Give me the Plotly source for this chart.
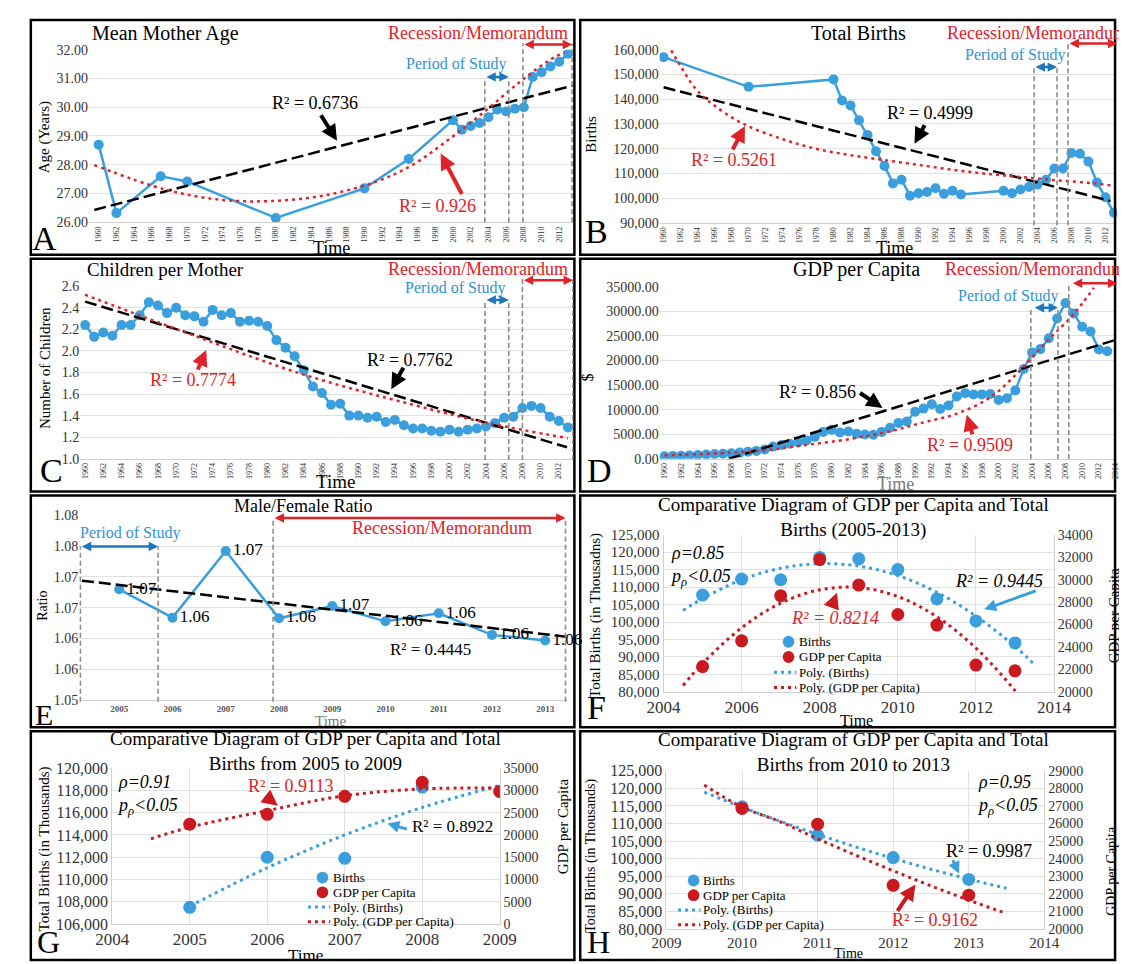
import plotly.graph_objects as go

W, H = 1127, 964
FONT = "Liberation Serif"
BLUE = "#3A9FDC"
BLUE_TXT = "#2F93D5"
BLUE_ARR = "#1F77BE"
RED = "#E02229"
RED_MK = "#C81A1F"
DASH_GRAY = "#8C8C8C"
GRID = "#E1E1E1"
AXLINE = "#D0D0D0"
TICK_C = "#333333"
GRAY_TXT = "#7A7A7A"

# ---------------- Panel A : Mean Mother Age ----------------
A_YEARS = [1960, 1962, 1967, 1970, 1980, 1990, 1995, 2000, 2001, 2002, 2003,
           2004, 2005, 2006, 2007, 2008, 2009, 2010, 2011, 2012, 2013]
A_AGE = [28.70, 26.32, 27.60, 27.42, 26.15, 27.18, 28.20, 29.55, 29.22, 29.35, 29.45,
         29.65, 29.92, 29.85, 29.95, 30.00, 31.05, 31.22, 31.42, 31.58, 31.86]
A_LIN_X = [1959.5, 2013.5]
A_LIN_Y = [26.43, 30.75]
A_POLY_X = [1959.5, 1967.5, 1973.9, 1979.5, 1985.4, 1991.4, 1995.4, 1999.4, 2003.4, 2007.4, 2010.6, 2012.6]
A_POLY_Y = [27.99, 27.14, 26.78, 26.74, 26.93, 27.42, 27.99, 28.85, 29.81, 30.84, 31.58, 31.92]

# ---------------- Panel B : Total Births ----------------
B_YEARS = [1960, 1970, 1980, 1981, 1982, 1983, 1984, 1985, 1986, 1987, 1988, 1989, 1990,
           1991, 1992, 1993, 1994, 1995, 2000, 2001, 2002, 2003, 2004, 2005, 2006, 2007,
           2008, 2009, 2010, 2011, 2012, 2013]
B_BIRTHS = [157000, 145000, 148000, 139500, 137500, 131500, 125500, 119000, 113000, 106000,
            107500, 101000, 102000, 102500, 104000, 101800, 103000, 101500, 103000, 102000,
            103500, 104500, 105500, 107500, 112000, 112000, 118300, 118000, 114800, 106400,
            100400, 94100]
B_LIN_X = [1960, 2012.6]
B_LIN_Y = [144800, 98900]
B_LOG_X = [1960.9, 1961.7, 1963.7, 1965.8, 1969.4, 1973.9, 1977.9, 1982.0, 1986.0, 1990.1,
           1994.2, 1998.2, 2002.3, 2006.3, 2010.4, 2012.8]
B_LOG_Y = [159700, 155100, 144500, 137900, 130000, 124000, 120000, 117400, 115400, 113400,
           111400, 109800, 108500, 107200, 106100, 105100]

# ---------------- Panel C : Children per Mother ----------------
C_YEARS = [1960, 1961, 1962, 1963, 1964, 1965, 1966, 1967, 1968, 1969,
           1970, 1971, 1972, 1973, 1974, 1975, 1976, 1977, 1978, 1979,
           1980, 1981, 1982, 1983, 1984, 1985, 1986, 1987, 1988, 1989,
           1990, 1991, 1992, 1993, 1994, 1995, 1996, 1997, 1998, 1999,
           2000, 2001, 2002, 2003, 2004, 2005, 2006, 2007, 2008, 2009,
           2010, 2011, 2012, 2013]
C_CHILDREN = [2.24, 2.13, 2.17, 2.14, 2.24, 2.24, 2.33, 2.45, 2.42, 2.35,
              2.40, 2.33, 2.32, 2.27, 2.38, 2.33, 2.35, 2.27, 2.28, 2.27,
              2.23, 2.10, 2.03, 1.95, 1.82, 1.67, 1.61, 1.50, 1.51, 1.40,
              1.40, 1.38, 1.39, 1.34, 1.36, 1.31, 1.28, 1.28, 1.26, 1.25,
              1.27, 1.25, 1.27, 1.28, 1.30, 1.33, 1.38, 1.39, 1.47, 1.49,
              1.47, 1.39, 1.35, 1.29]
C_LIN_X = [1960, 2012.9]
C_LIN_Y = [2.457, 1.106]
C_POLY_X = [1960, 1972, 1984, 1996, 2004, 2013]
C_POLY_Y = [2.52, 2.14, 1.78, 1.50, 1.335, 1.19]

# ---------------- Panel D : GDP per Capita ----------------
D_YEARS = C_YEARS
D_GDP = [520, 580, 610, 680, 770, 870, 960, 1030, 1100, 1250,
         1450, 1600, 1880, 2470, 2790, 3050, 3310, 3740, 4460, 5440,
         5880, 5340, 5550, 5080, 4940, 4870, 5470, 6300, 7300, 7590,
         9570, 10210, 11090, 10140, 10840, 12670, 13360, 13090, 13100, 13200,
         11950, 12330, 13920, 18270, 21620, 22320, 24520, 28550, 31700, 29560,
         26860, 25920, 22240, 21870]
D_LIN_X = [1967.7, 2014.2]
D_LIN_Y = [0, 24300]
D_POLY_X = [1960, 1968, 1972.5, 1976, 1982.5, 1987, 1991, 1995, 1999, 2002, 2004, 2006.4, 2008.5, 2010.1, 2011.4]
D_POLY_Y = [700, 1250, 1800, 2600, 4100, 5600, 7400, 9200, 12500, 17000, 20600, 25000, 28500, 31800, 34800]

# ---------------- Panel E : Male/Female Ratio ----------------
E_YEARS = [2005, 2006, 2007, 2008, 2009, 2010, 2011, 2012, 2013]
E_RATIO = [1.0680, 1.0634, 1.0742, 1.0633, 1.0653, 1.0628, 1.0641, 1.0606, 1.0597]
E_LIN_X = [2004.3, 2013.4]
E_LIN_Y = [1.0694, 1.0603]
E_TICKVALS = [1.050, 1.055, 1.060, 1.065, 1.070, 1.075, 1.080]
E_TICKTEXT = ["1.05", "1.06", "1.06", "1.07", "1.07", "1.08", "1.08"]

# ---------------- Panel F : 2005-2013 ----------------
F_YEARS = [2005, 2006, 2007, 2008, 2009, 2010, 2011, 2012, 2013]
F_BIRTHS = [107700, 112300, 112100, 118500, 118100, 115000, 106600, 100300, 94000]
F_GDP = [22250, 24550, 28570, 31780, 29510, 26890, 25950, 22390, 21870]
F_PB_X = [2004.5, 2005, 2006, 2007, 2008, 2009, 2010, 2011, 2012, 2013, 2013.5]
F_PB_Y = [103300, 106700, 112100, 115400, 116700, 116000, 113300, 108500, 101700, 93000, 87800]
F_PG_X = [2004.5, 2005, 2006, 2007, 2008, 2009, 2010, 2011, 2012, 2013, 2013.5]
F_PG_Y = [20570, 22530, 25710, 27900, 29090, 29290, 28490, 26690, 23900, 20110, 17850]

# ---------------- Panel G : 2005-2009 ----------------
G_YEARS = [2005, 2006, 2007, 2008, 2009]
G_BIRTHS = [107500, 112000, 111900, 118300, 117900]
G_GDP = [22420, 24630, 28690, 31840, 29790]
G_PB_X = [2005, 2006, 2007, 2008, 2009]
G_PB_Y = [107600, 111050, 114000, 116470, 118460]
G_PG_X = [2004.5, 2005, 2006, 2007, 2008, 2009]
G_PG_Y = [19120, 21730, 25470, 28820, 30340, 30520]

# ---------------- Panel H : 2010-2013 ----------------
H_YEARS = [2010, 2011, 2012, 2013]
H_BIRTHS = [114750, 106650, 100310, 94080]
H_GDP = [26855, 25960, 22480, 21920]
H_PB_X = [2009.5, 2010, 2010.5, 2011, 2011.5, 2012, 2012.5, 2013, 2013.5]
H_PB_Y = [118900, 114660, 110660, 106890, 103360, 100060, 96990, 94160, 91560]
H_PG_X = [2009.5, 2010, 2010.5, 2011, 2011.5, 2012, 2012.5, 2013, 2013.5]
H_PG_Y = [28190, 26930, 26110, 25130, 24200, 23310, 22450, 21640, 20870]

LEGEND_LABELS = ["Births", "GDP per Capita", "Poly. (Births)", "Poly. (GDP per Capita)"]

# period / recession markers (years) per panel
A_PERIOD = [2003.6, 2006.3]; A_REC = [2007.9, 2013.45]
B_PERIOD = [2003.6, 2006.3]; B_REC = [2007.6, 2013.4]
C_PERIOD = [2003.9, 2006.5]; C_REC = [2008.0, 2013.55]
D_PERIOD = [2003.85, 2007.1]; D_REC = [2008.4, 2014.2]
E_PERIOD = [2004.27, 2005.73]; E_REC = [2007.89, 2013.38]


def PX(x):
    return x / W


def PY(y):
    return 1 - y / H


def xdom(a, b):
    return [PX(a), PX(b)]


def ydom(top, bottom):
    return [PY(bottom), PY(top)]


fig = go.Figure()


def add(x, y, xa, ya, mode, color, width=2.5, dash=None, shape="linear", msize=10,
        name=None, clip=True):
    kw = dict(x=x, y=y, xaxis=xa, yaxis=ya, mode=mode, hoverinfo="skip",
              showlegend=False, cliponaxis=clip)
    if name:
        kw["name"] = name
    if "lines" in mode:
        kw["line"] = dict(color=color, width=width, dash=dash, shape=shape)
    if "markers" in mode:
        kw["marker"] = dict(color=color, size=msize, line=dict(width=0))
    fig.add_trace(go.Scatter(**kw))
    return fig.data[-1]


# A
add(A_YEARS, A_AGE, "x", "y", "lines+markers", BLUE)
add(A_LIN_X, A_LIN_Y, "x", "y", "lines", "black", 2.5, "12px,5px")
add(A_POLY_X, A_POLY_Y, "x", "y", "lines", RED, 2.5, "3px,4px", "spline")
# B
add(B_YEARS, B_BIRTHS, "x2", "y2", "lines+markers", BLUE)
add(B_LIN_X, B_LIN_Y, "x2", "y2", "lines", "black", 2.5, "12px,5px")
add(B_LOG_X, B_LOG_Y, "x2", "y2", "lines", RED, 2.5, "3px,4px", "spline")
# C
add(C_YEARS, C_CHILDREN, "x3", "y3", "lines+markers", BLUE)
add(C_LIN_X, C_LIN_Y, "x3", "y3", "lines", "black", 2.5, "12px,5px")
add(C_POLY_X, C_POLY_Y, "x3", "y3", "lines", RED, 2.5, "3px,4px", "spline")
# D
add(D_YEARS, D_GDP, "x4", "y4", "lines+markers", BLUE)
add(D_LIN_X, D_LIN_Y, "x4", "y4", "lines", "black", 2.5, "12px,5px")
add(D_POLY_X, D_POLY_Y, "x4", "y4", "lines", RED, 2.5, "3px,4px", "spline")
# E
t = add(E_YEARS, E_RATIO, "x5", "y5", "lines+markers+text", BLUE, clip=False)
t.texttemplate = "%{y:.2f}"
t.textposition = "middle right"
t.textfont = dict(family=FONT, size=17, color="black")
add(E_LIN_X, E_LIN_Y, "x5", "y5", "lines", "black", 2.5, "12px,5px")

# F / G / H comparative panels
for (yrs, births, gdp, pbx, pby, pgx, pgy, xa, yl, yr) in [
    (F_YEARS, F_BIRTHS, F_GDP, F_PB_X, F_PB_Y, F_PG_X, F_PG_Y, "x6", "y6", "y7"),
    (G_YEARS, G_BIRTHS, G_GDP, G_PB_X, G_PB_Y, G_PG_X, G_PG_Y, "x7", "y8", "y9"),
    (H_YEARS, H_BIRTHS, H_GDP, H_PB_X, H_PB_Y, H_PG_X, H_PG_Y, "x8", "y10", "y11"),
]:
    add(yrs, births, xa, yl, "markers", BLUE, msize=13, name=LEGEND_LABELS[0])
    add(yrs, gdp, xa, yr, "markers", RED_MK, msize=13, name=LEGEND_LABELS[1])
    add(pbx, pby, xa, yl, "lines", BLUE, 3, "3px,4px", "spline", name=LEGEND_LABELS[2])
    add(pgx, pgy, xa, yr, "lines", RED_MK, 3, "3px,4px", "spline", name=LEGEND_LABELS[3])


def xaxis(dom, rng, tickvals, size, angle=0, weight="normal", grid=False, anchor="y", line=True,
          color=TICK_C):
    return dict(domain=xdom(*dom), range=rng, tickmode="array", tickvals=tickvals,
                tickfont=dict(family=FONT, size=size, color=color, weight=weight),
                tickangle=angle, showgrid=grid, gridcolor=GRID, zeroline=False,
                showline=line, linecolor=AXLINE, ticks="", fixedrange=True, anchor=anchor)


def yaxis(dom, rng, dtick, fmt, size, anchor, side="left", grid=True, overlaying=None,
          line=False, tickvals=None, ticktext=None):
    d = dict(range=rng, tickfont=dict(family=FONT, size=size, color=TICK_C),
             showgrid=grid, gridcolor=GRID, zeroline=False, showline=line, linecolor=AXLINE,
             ticks="", fixedrange=True, anchor=anchor, side=side)
    if dom is not None:
        d["domain"] = ydom(*dom)
    if overlaying:
        d["overlaying"] = overlaying
    if tickvals is not None:
        d.update(tickmode="array", tickvals=tickvals, ticktext=ticktext)
    else:
        d.update(tick0=rng[0], dtick=dtick, tickformat=fmt)
    return d


YEARS2 = list(range(1960, 2013, 2))
YEARS2D = list(range(1960, 2015, 2))

layout = dict(
    width=W, height=H, margin=dict(l=0, r=0, t=0, b=0),
    paper_bgcolor="white", plot_bgcolor="rgba(0,0,0,0)",
    font=dict(family=FONT, color="black"), hovermode=False, showlegend=False,
    xaxis=xaxis((66, 566), [1958.9, 2013.6], YEARS2, 8, -90, anchor="y"),
    yaxis=yaxis((34.3, 210), [26, 32], 1, ".2f", 14, "x"),
    xaxis2=xaxis((655, 1127), [1959.54, 2013.36], YEARS2, 8, -90, anchor="y2"),
    yaxis2=yaxis((34.3, 210.7), [90000, 160000], 10000, ",d", 14, "x2"),
    xaxis3=xaxis((57, 566), [1959.47, 2013.6], YEARS2, 8, -90, anchor="y3"),
    yaxis3=yaxis((275, 450.7), [1.0, 2.6], 0.2, ".1f", 14, "x3"),
    xaxis4=xaxis((655, 1127), [1959.42, 2014.17], YEARS2D, 8, -90, anchor="y4"),
    yaxis4=yaxis((275.7, 450.7), [0, 35000], 5000, ".2f", 14, "x4"),
    xaxis5=xaxis((56, 560), [2004.25, 2013.42], E_YEARS, 9, 0, weight="bold", anchor="y5",
                 color="#555555"),
    yaxis5=yaxis((508.3, 696.5), [1.05, 1.08], None, None, 14, "x5",
                 tickvals=E_TICKVALS, ticktext=E_TICKTEXT),
    xaxis6=xaxis((659, 1062), [2004, 2014], [2004, 2006, 2008, 2010, 2012, 2014], 17,
                 grid=True, anchor="y6"),
    yaxis6=yaxis((528, 688), [80000, 125000], 5000, ",d", 15, "x6", line=True),
    yaxis7=yaxis(None, [20000, 34000], 2000, "d", 14, "x6", side="right", grid=False,
                 overlaying="y6", line=True),
    xaxis7=xaxis((90, 490), [2004, 2009], [2004, 2005, 2006, 2007, 2008, 2009], 17,
                 grid=True, anchor="y8"),
    yaxis8=yaxis((765.7, 924.3), [106000, 120000], 2000, ",d", 16, "x7", line=True),
    yaxis9=yaxis(None, [0, 35000], 5000, "d", 14, "x7", side="right", grid=False,
                 overlaying="y8", line=True),
    xaxis8=xaxis((662, 1052), [2009, 2014], [2009, 2010, 2011, 2012, 2013, 2014], 15,
                 grid=True, anchor="y10"),
    yaxis10=yaxis((768.3, 929.3), [80000, 125000], 5000, ",d", 16, "x8", line=True),
    yaxis11=yaxis(None, [20000, 29000], 1000, "d", 14, "x8", side="right", grid=False,
                  overlaying="y10", line=True),
)

ann = []
shapes = []


def txt(x, y, s, size, color="black", xanchor="left", angle=0, yanchor="middle", align="left"):
    ann.append(dict(x=PX(x), y=PY(y), xref="paper", yref="paper", text=s, showarrow=False,
                    xanchor=xanchor, yanchor=yanchor, textangle=angle, align=align,
                    font=dict(family=FONT, size=size, color=color)))


def pointer(tx, ty, hx, hy, color, width=4):
    ann.append(dict(x=PX(hx), y=PY(hy), xref="paper", yref="paper", text="", showarrow=True,
                    ax=tx - hx, ay=ty - hy, axref="pixel", ayref="pixel",
                    arrowhead=2, arrowsize=0.8, arrowwidth=width, arrowcolor=color, standoff=0))


def span_arrow(xref, x0, x1, ypx, color):
    ann.append(dict(x=x1, y=PY(ypx), xref=xref, yref="paper", ax=x0, axref=xref,
                    ay=0, ayref="pixel", text="", showarrow=True, arrowhead=2,
                    arrowside="end+start", arrowsize=0.75, arrowwidth=2.5, arrowcolor=color,
                    standoff=0, startstandoff=0))


def vdash(xref, xv, top, bottom):
    shapes.append(dict(type="line", xref=xref, yref="paper", x0=xv, x1=xv,
                       y0=PY(bottom), y1=PY(top),
                       line=dict(color=DASH_GRAY, width=1.6, dash="5px,3px")))


def legend_box(mx, tx, rows):
    """Legend drawn as glyphs + real text: marker centre mx, text start tx, row centres."""
    glyphs = [("marker", BLUE), ("marker", RED_MK), ("line", BLUE), ("line", RED_MK)]
    for (kind, col), ry, label in zip(glyphs, rows, LEGEND_LABELS):
        if kind == "marker":
            r = 6
            shapes.append(dict(type="circle", xref="paper", yref="paper",
                               x0=PX(mx - r), x1=PX(mx + r), y0=PY(ry + r), y1=PY(ry - r),
                               fillcolor=col, line=dict(width=0)))
        else:
            shapes.append(dict(type="line", xref="paper", yref="paper",
                               x0=PX(tx - 24), x1=PX(tx - 1), y0=PY(ry), y1=PY(ry),
                               line=dict(color=col, width=3, dash="3px,4px")))
        txt(tx, ry, label, 13)


def rho_block(x, ytop, rho):
    txt(x, ytop, "<i>ρ=%s</i><br><i>p<sub>ρ</sub>&lt;0.05</i>" % rho, 18, yanchor="top")


def title2(x, yc, line1, line2):
    txt(x, yc, line1 + "<br>" + line2, 19, xanchor="center", align="center")


# panel frames
for (x0, y0, x1, y1) in [(6, 4, 567, 243), (573, 4, 1125, 243), (6, 247, 567, 484),
                         (573, 247, 1125, 484), (6, 488, 567, 724), (573, 488, 1125, 724),
                         (6, 728, 567, 961), (573, 728, 1125, 961)]:
    shapes.append(dict(type="rect", xref="paper", yref="paper", x0=PX(x0), x1=PX(x1),
                       y0=PY(y1), y1=PY(y0), line=dict(color="black", width=2.5)))

# ---- A annotations
txt(67, 18, "Mean Mother Age", 20)
txt(562, 17, "Recession/Memorandum", 18, RED, "right")
txt(498, 49, "Period of Study", 16, BLUE_TXT, "right")
txt(253, 89, "R² = 0.6736", 18)
txt(384, 193, "R² = 0.926", 18, RED)
txt(5, 227, "A", 34)
txt(316, 236, "Time", 18, xanchor="center")
txt(20, 123, "Age (Years)", 15, xanchor="center", angle=-90)
pointer(305, 100, 322, 127, "black")
pointer(451, 182, 429, 140, RED)
vdash("x", A_PERIOD[0], 63, 210); vdash("x", A_PERIOD[1], 63, 210)
vdash("x", A_REC[0], 28, 210); vdash("x", A_REC[1], 28, 210)
span_arrow("x", A_PERIOD[0], A_PERIOD[1], 62, BLUE_ARR)
span_arrow("x", A_REC[0], A_REC[1], 29, RED)

# ---- B annotations
txt(860, 17, "Total Births", 20, xanchor="center")
txt(949, 17, "Recession/Memorandum", 18, RED)
txt(1075, 40, "Period of Study", 16, BLUE_TXT, "right")
txt(888, 99, "R² = 0.4999", 18)
txt(685, 147, "R² = 0.5261", 18, RED)
txt(576, 219, "B", 34)
txt(897, 236, "Time", 18, xanchor="center")
txt(584, 120, "Births", 15, xanchor="center", angle=-90)
pointer(929, 110, 918, 130, "black")
pointer(730, 137, 743, 112, RED)
vdash("x2", B_PERIOD[0], 53, 213); vdash("x2", B_PERIOD[1], 53, 213)
vdash("x2", B_REC[0], 27, 213)
span_arrow("x2", B_PERIOD[0], B_PERIOD[1], 52, BLUE_ARR)
span_arrow("x2", B_REC[0], B_REC[1], 28, RED)

# ---- C annotations
txt(62, 258, "Children per Mother", 19)
txt(562, 258, "Recession/Memorandum", 18, RED, "right")
txt(497, 277, "Period of Study", 16, BLUE_TXT, "right")
txt(351, 350, "R² = 0.7762", 18)
txt(127, 371, "R² = 0.7774", 18, RED)
txt(13, 463, "C", 34)
txt(320, 474, "Time", 19, xanchor="center")
txt(20, 358, "Number of Children", 15, xanchor="center", angle=-90)
pointer(391, 357, 378, 380, "black")
pointer(178, 361, 187, 340, RED)
vdash("x3", C_PERIOD[0], 290, 452); vdash("x3", C_PERIOD[1], 290, 452)
vdash("x3", C_REC[0], 265, 452); vdash("x3", C_REC[1], 265, 452)
span_arrow("x3", C_PERIOD[0], C_PERIOD[1], 289, BLUE_ARR)
span_arrow("x3", C_REC[0], C_REC[1], 269, RED)

# ---- D annotations
txt(858, 258, "GDP per Capita", 20, xanchor="center")
txt(947, 258, "Recession/Memorandum", 18, RED)
txt(1068, 285, "Period of Study", 16, BLUE_TXT, "right")
txt(776, 383, "R² = 0.856", 18)
txt(929, 437, "R² = 0.9509", 18, RED)
txt(578, 463, "D", 34)
txt(898, 476, "Time", 18, GRAY_TXT, xanchor="center")
txt(581, 368, "$", 16, xanchor="center", angle=-90)
pointer(861, 383, 885, 399, "black")
pointer(978, 427, 972, 406, RED)
vdash("x4", D_PERIOD[0], 298, 451); vdash("x4", D_PERIOD[1], 298, 451)
vdash("x4", D_REC[0], 273, 451)
span_arrow("x4", D_PERIOD[0] + 0.3, D_PERIOD[1], 297, BLUE_ARR)
span_arrow("x4", D_REC[0] + 0.3, D_REC[1], 272, RED)

# ---- E annotations
txt(287, 499, "Male/Female Ratio", 18, xanchor="center")
txt(430, 521, "Recession/Memorandum", 18, RED, "center")
txt(55, 526, "Period of Study", 16, BLUE_TXT)
txt(375, 645, "R² = 0.4445", 17)
txt(8, 711, "E", 30)
txt(315, 718, "Time", 15, GRAY_TXT, xanchor="center")
txt(18, 600, "Ratio", 14, xanchor="center", angle=-90)
vdash("x5", E_PERIOD[0], 540, 698); vdash("x5", E_PERIOD[1], 540, 698)
vdash("x5", E_REC[0], 511, 698); vdash("x5", E_REC[1], 511, 698)
span_arrow("x5", E_PERIOD[0], E_PERIOD[1], 540, BLUE_ARR)
span_arrow("x5", E_REC[0], E_REC[1], 511, RED)

# ---- F annotations
title2(855, 510, "Comparative Diagram of GDP per Capita and Total", "Births (2005-2013)")
rho_block(664, 534, "0.85")
txt(958, 575, "<i>R² = 0.9445</i>", 18)
txt(788, 613, "<i>R² = 0.8214</i>", 18, RED)
txt(578, 704, "F", 34)
txt(858, 717, "Time", 16, xanchor="center")
txt(589, 610, "Total Births (in Thousadns)", 15, xanchor="center", angle=-90)
txt(1124, 610, "GDP per Capita", 15, xanchor="center", angle=-90)
pointer(1043, 585, 990, 604, BLUE, 3)
pointer(832, 603, 838, 587, RED_MK, 4)
legend_box(788, 797, [637, 652.5, 668, 683.5])

# ---- G annotations
title2(290, 748, "Comparative Diagram of GDP per Capita and Total", "Births from 2005 to 2009")
rho_block(93, 768, "0.91")
txt(228, 784, "R² = 0.9113", 18, RED)
txt(397, 825, "R² = 0.8922", 17)
txt(10, 943, "G", 32)
txt(289, 956, "Time", 17, xanchor="center")
txt(20, 848, "Total Births (in Thousands)", 15, xanchor="center", angle=-90)
txt(556, 825, "GDP per Capita", 15, xanchor="center", angle=-90)
pointer(247, 793, 261, 804, RED_MK, 4)
pointer(395, 828, 374, 822, BLUE, 3)
legend_box(307, 316, [877, 892, 907, 922])

# ---- H annotations
title2(855, 749, "Comparative Diagram of GDP per Capita and Total", "Births from 2010 to 2013")
rho_block(980, 768, "0.95")
txt(948, 850, "R² = 0.9987", 18)
txt(893, 920, "R² = 0.9162", 18, RED)
txt(578, 943, "H", 32)
txt(850, 954, "Time", 14, xanchor="center")
txt(584, 855, "Total Births (in Thousands)", 14, xanchor="center", angle=-90)
txt(1122, 870, "GDP per Capita", 14, xanchor="center", angle=-90)
pointer(957, 858, 964, 873, BLUE, 3)
pointer(900, 912, 919, 884, RED_MK, 4)
legend_box(690, 698, [880, 895, 910, 925])

layout["annotations"] = ann
layout["shapes"] = shapes
fig.update_layout(**layout)
fig.write_html("out.html")
